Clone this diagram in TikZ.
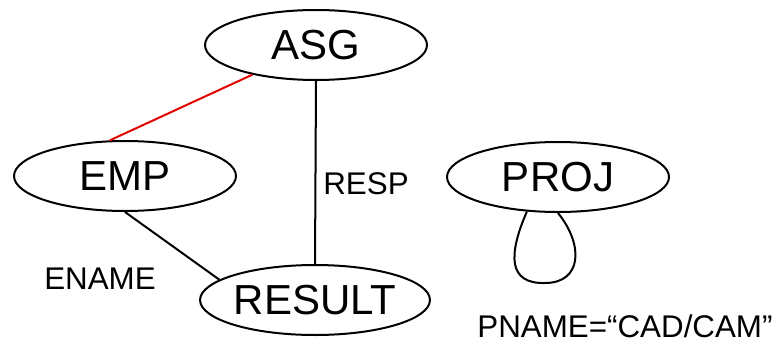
\documentclass[tikz,border=0pt]{standalone}
\usepackage{fontspec}
\setmainfont{Liberation Sans}
\usetikzlibrary{shapes.geometric}
\begin{document}
\begin{tikzpicture}[x=0.75pt,y=-0.75pt,
  ent/.style={ellipse,draw,line width=1.5pt,inner sep=0pt,minimum width=166.5pt,minimum height=52.5pt,font=\fontsize{31.5}{31.5}\selectfont},
  lbl/.style={inner sep=0pt,font=\fontsize{23.5}{23.5}\selectfont},
  edge/.style={line width=1.5pt}]
\useasboundingbox (0,0) rectangle (778,343);
\node[ent] (ASG) at (316,45) {ASG};
\node[ent] (EMP) at (125,176) {EMP};
\node[ent] (RESULT) at (315,300) {RESULT};
\node[ent] (PROJ) at (558,177) {PROJ};
\node[lbl] (RESP) at (366,184) {RESP};
\node[lbl] (ENAME) at (100,279) {ENAME};
\node[lbl] (PNAME) at (625,326) {PNAME=“CAD/CAM”};
\draw[edge,red!90!black] (EMP.113) -- (ASG.205);
\draw[edge] (ASG.south) -- (RESULT.north);
\draw[edge] (EMP.south) -- (RESULT.168);
\coordinate (loopbot) at (545,283);
\draw[edge] (PROJ.228) .. controls (508,255) and (508,284) .. (loopbot) .. controls (582,283) and (584,245) .. (PROJ.270);
\end{tikzpicture}
\end{document}
